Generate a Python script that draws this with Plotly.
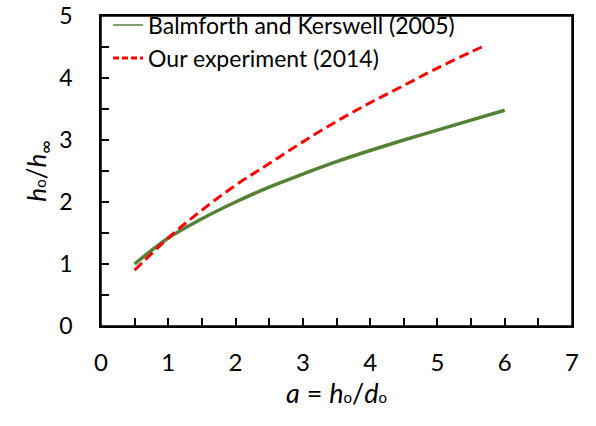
import plotly.graph_objects as go

# Balmforth and Kerswell (2005)
bk_x = [0.5, 1.0, 1.5, 2.0, 2.5, 3.0, 3.5, 4.0, 4.5, 5.0, 5.5, 6.0]
bk_y = [1.00, 1.42, 1.73, 2.00, 2.24, 2.45, 2.65, 2.83, 3.00, 3.16, 3.32, 3.48]

# Our experiment (2014)
ex_x = [0.5, 1.0, 1.5, 2.0, 2.5, 3.0, 3.5, 4.0, 4.5, 5.0, 5.5, 5.7]
ex_y = [0.90, 1.42, 1.87, 2.27, 2.62, 2.97, 3.30, 3.60, 3.88, 4.16, 4.42, 4.52]

names = ["Balmforth and Kerswell (2005)", "Our experiment (2014)"]
x_ticks = [0, 1, 2, 3, 4, 5, 6, 7]
y_ticks = [0, 1, 2, 3, 4, 5]

GREEN = "#548235"
RED = "#FF0000"
FONT = "Lato"
SUBO = '<span style="font-size:15px">o</span>'

fig = go.Figure()
fig.add_trace(go.Scatter(x=bk_x, y=bk_y, mode="lines", showlegend=False,
                         line=dict(color=GREEN, width=3.5, shape="spline")))
fig.add_trace(go.Scatter(x=ex_x, y=ex_y, mode="lines", showlegend=False,
                         line=dict(color=RED, width=3, dash="10px,5px", shape="spline")))
# legend entries
fig.add_trace(go.Scatter(x=[None], y=[None], mode="lines", name=names[0],
                         line=dict(color=GREEN, width=1.5)))
fig.add_trace(go.Scatter(x=[None], y=[None], mode="lines", name=names[1],
                         line=dict(color=RED, width=3, dash="6px,3px")))

axis_common = dict(showgrid=False, zeroline=False, showline=True, linecolor="black",
                   linewidth=1.5, mirror=True, ticks="inside", ticklen=8, tickwidth=1.5,
                   tickcolor="black",
                   ticklabeloverflow="allow", automargin=False,
                   minor=dict(dtick=0.5, ticks="inside", ticklen=8, tickwidth=1.5,
                              tickcolor="black", showgrid=False))

fig.update_xaxes(range=[0, 7], tickvals=x_ticks, ticktext=[str(v) for v in x_ticks],
                 ticklabelstandoff=14, tickfont=dict(family=FONT, size=24, color="black"),
                 title=dict(text="<i>a</i> = <i>h</i>" + SUBO + "/<i>d</i>" + SUBO,
                            font=dict(family=FONT, size=27, color="black"), standoff=8),
                 **axis_common)
fig.update_yaxes(range=[0, 5], tickvals=y_ticks, ticktext=[str(v) for v in y_ticks],
                 ticklabelstandoff=22, tickfont=dict(family=FONT, size=23, color="black"),
                 title=dict(text="<i>h</i>" + SUBO + "/<i>h</i><sub>∞</sub>",
                            font=dict(family=FONT, size=26, color="black"), standoff=5),
                 **axis_common)

fig.add_shape(type="rect", xref="paper", yref="paper", x0=0, x1=1, y0=0, y1=1,
              line=dict(color="black", width=1.5), fillcolor="rgba(0,0,0,0)", layer="above")

fig.update_layout(
    width=596, height=426,
    margin=dict(l=101, r=24, t=16, b=100, autoexpand=False),
    plot_bgcolor="white", paper_bgcolor="white",
    legend=dict(x=0.015, y=1.04, xanchor="left", yanchor="top",
                bgcolor="rgba(0,0,0,0)", font=dict(family=FONT, size=23, color="black"),
                itemwidth=30, tracegroupgap=0),
)

fig.write_html("out.html")
